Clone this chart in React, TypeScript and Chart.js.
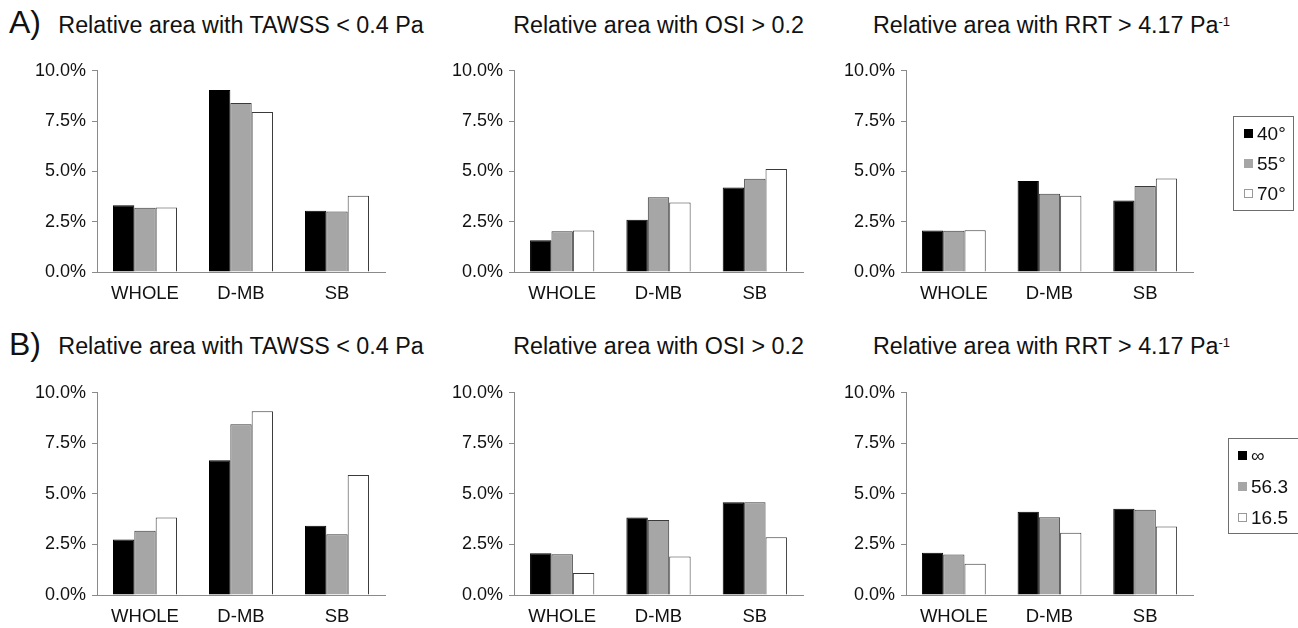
import React, { useEffect, useRef } from 'react';
import { Chart, registerables } from 'chart.js';

Chart.register(...registerables);

// ---- data -------------------------------------------------------------
const categories = ['WHOLE', 'D-MB', 'SB'];
const angleLegend = ['40°', '55°', '70°'];
const ratioLegend = ['∞', '56.3', '16.5'];
const yTickValues = [0, 2.5, 5, 7.5, 10];

// A) bifurcation angle — relative area (%)
const tawssA40 = [3.32, 9.05, 3.04];
const tawssA55 = [3.19, 8.4, 3.01];
const tawssA70 = [3.21, 7.95, 3.79];
const osiA40 = [1.58, 2.6, 4.2];
const osiA55 = [2.03, 3.72, 4.63];
const osiA70 = [2.06, 3.45, 5.12];
const rrtA40 = [2.06, 4.52, 3.55];
const rrtA55 = [2.05, 3.89, 4.27];
const rrtA70 = [2.08, 3.79, 4.65];

// B) curvature ratio — relative area (%)
const tawssBInf = [2.74, 6.67, 3.43];
const tawssB563 = [3.18, 8.44, 3.0];
const tawssB165 = [3.83, 9.09, 5.93];
const osiBInf = [2.06, 3.83, 4.59];
const osiB563 = [2.01, 3.71, 4.59];
const osiB165 = [1.09, 1.9, 2.85];
const rrtBInf = [2.09, 4.12, 4.27];
const rrtB563 = [2.0, 3.85, 4.22];
const rrtB165 = [1.54, 3.08, 3.39];

// ---- styling ----------------------------------------------------------
const FONT = "'Liberation Sans', Arial, Helvetica, sans-serif";
const TEXT = '#111';
const AXIS = '#8a8a8a';
const BAR_EDGE = '#3a3a3a';
const FILLS = ['#000000', '#a6a6a6', '#ffffff'];
const EDGES = ['#000000', BAR_EDGE, BAR_EDGE];

const AXIS_W = 95; // band reserved for the y tick labels
const AXIS_H = 40; // band reserved for the category labels
const PAD_TOP = 14;

const COLS = [
  { left: 97, right: 385 },
  { left: 514, right: 803 },
  { left: 906, right: 1193 },
];
const ROWS = [
  { top: 68, bottom: 272 },
  { top: 390, bottom: 595 },
];

// legend box placement, relative to the plot area's top-right corner
const LEGENDS = [
  { dx: 40, dy: 45, width: 60, height: 94, firstRow: 17, rowGap: 30, swatchX: 10 },
  { dx: 35, dy: 45, width: 70, height: 95, firstRow: 17, rowGap: 31, swatchX: 9 },
];

// Framed legend at the right of the plot, listing each dataset's swatch and label
const boxedLegend = {
  id: 'boxedLegend',
  afterDraw(chart: any, _args: any, opts: any) {
    if (!opts || !opts.display) return;
    const { ctx, chartArea } = chart;
    const x0 = Math.round(chartArea.right + opts.dx) + 0.5;
    const y0 = Math.round(chartArea.top + opts.dy) + 0.5;
    ctx.save();
    ctx.lineWidth = 1;
    ctx.strokeStyle = '#6e6e6e';
    ctx.strokeRect(x0, y0, opts.width, opts.height);
    const size = 9;
    ctx.font = `19px ${FONT}`;
    ctx.textBaseline = 'middle';
    ctx.textAlign = 'left';
    chart.data.datasets.forEach((ds: any, i: number) => {
      const cy = y0 + opts.firstRow + i * opts.rowGap;
      const sx = Math.round(x0 + opts.swatchX);
      const sy = Math.round(cy - size / 2);
      ctx.fillStyle = ds.backgroundColor;
      ctx.fillRect(sx, sy, size, size);
      if (ds.backgroundColor === '#ffffff') {
        ctx.strokeStyle = '#999';
        ctx.strokeRect(sx + 0.5, sy + 0.5, size - 1, size - 1);
      }
      ctx.fillStyle = TEXT;
      ctx.fillText(ds.label, sx + size + 4, cy + 1);
    });
    ctx.restore();
  },
};

type Panel = {
  row: number;
  col: number;
  labels: string[];
  series: number[][];
};

const PANELS: Panel[] = [
  { row: 0, col: 0, labels: angleLegend, series: [tawssA40, tawssA55, tawssA70] },
  { row: 0, col: 1, labels: angleLegend, series: [osiA40, osiA55, osiA70] },
  { row: 0, col: 2, labels: angleLegend, series: [rrtA40, rrtA55, rrtA70] },
  { row: 1, col: 0, labels: ratioLegend, series: [tawssBInf, tawssB563, tawssB165] },
  { row: 1, col: 1, labels: ratioLegend, series: [osiBInf, osiB563, osiB165] },
  { row: 1, col: 2, labels: ratioLegend, series: [rrtBInf, rrtB563, rrtB165] },
];

function BarPanel({ panel }: { panel: Panel }) {
  const ref = useRef<HTMLCanvasElement>(null);
  const col = COLS[panel.col];
  const row = ROWS[panel.row];
  const withLegend = panel.col === 2;
  const padRight = withLegend ? 1298 - col.right : 4;
  const left = col.left - AXIS_W;
  const top = row.top - PAD_TOP;
  const width = col.right - col.left + AXIS_W + padRight;
  const height = row.bottom - row.top + PAD_TOP + AXIS_H;

  useEffect(() => {
    const canvas = ref.current;
    if (!canvas) return;
    const chart = new Chart(canvas, {
      type: 'bar',
      data: {
        labels: categories,
        datasets: panel.series.map((values, i) => ({
          label: panel.labels[i],
          data: values,
          backgroundColor: FILLS[i],
          borderColor: EDGES[i],
          borderWidth: 1,
          categoryPercentage: 0.667,
          barPercentage: 1,
        })),
      },
      options: {
        animation: false,
        responsive: false,
        devicePixelRatio: 1,
        events: [],
        layout: { padding: { top: PAD_TOP, left: 0, right: padRight, bottom: 0 } },
        plugins: {
          legend: { display: false },
          tooltip: { enabled: false },
          title: { display: false },
          boxedLegend: withLegend
            ? { display: true, ...LEGENDS[panel.row] }
            : { display: false },
        } as any,
        scales: {
          x: {
            grid: { display: false, drawTicks: false },
            border: { display: true, color: AXIS, width: 1 },
            ticks: {
              color: TEXT,
              padding: 11,
              font: { family: FONT, size: 18.5 },
              maxRotation: 0,
            },
            afterFit: (scale: any) => {
              scale.height = AXIS_H;
            },
          },
          y: {
            min: 0,
            max: 10,
            grid: {
              display: true,
              drawOnChartArea: false,
              drawTicks: true,
              tickLength: 5,
              color: AXIS,
            },
            border: { display: true, color: AXIS, width: 1 },
            ticks: {
              color: TEXT,
              padding: 6,
              font: { family: FONT, size: 18 },
              callback: (v: any) => Number(v).toFixed(1) + '%',
            },
            afterBuildTicks: (scale: any) => {
              scale.ticks = yTickValues.map((value) => ({ value }));
            },
            afterFit: (scale: any) => {
              scale.width = AXIS_W;
            },
          },
        },
      },
      plugins: [boxedLegend as any],
    });
    return () => chart.destroy();
  }, []);

  return (
    <canvas
      ref={ref}
      width={width}
      height={height}
      style={{ position: 'absolute', left, top, width, height }}
    />
  );
}

const TITLE_TOPS = [14, 335];
const LETTER_TOPS = [6, 328];

function PanelTitle({ row, col, children }: { row: number; col: number; children: React.ReactNode }) {
  const c = COLS[col];
  const cx = (c.left + c.right) / 2 + (col === 2 ? 2 : 0);
  return (
    <div
      style={{
        position: 'absolute',
        left: cx - 250,
        width: 500,
        top: TITLE_TOPS[row],
        textAlign: 'center',
        fontFamily: FONT,
        fontSize: 23.3,
        lineHeight: '23px',
        color: TEXT,
        whiteSpace: 'nowrap',
      }}
    >
      {children}
    </div>
  );
}

function RowLetter({ row, text }: { row: number; text: string }) {
  return (
    <div
      style={{
        position: 'absolute',
        left: 9,
        top: LETTER_TOPS[row],
        fontFamily: FONT,
        fontSize: 32,
        lineHeight: '32px',
        color: TEXT,
        whiteSpace: 'nowrap',
      }}
    >
      {text}
    </div>
  );
}

const sup = (
  <sup style={{ fontSize: 13, lineHeight: 0, verticalAlign: '0.55em' }}>-1</sup>
);

export default function App() {
  return (
    <div
      style={{
        position: 'fixed',
        left: 0,
        top: 0,
        width: 1298,
        height: 628,
        background: '#ffffff',
        overflow: 'hidden',
      }}
    >
      <RowLetter row={0} text="A)" />
      <RowLetter row={1} text="B)" />
      {[0, 1].map((r) => (
        <React.Fragment key={r}>
          <PanelTitle row={r} col={0}>Relative area with TAWSS &lt; 0.4 Pa</PanelTitle>
          <PanelTitle row={r} col={1}>Relative area with OSI &gt; 0.2</PanelTitle>
          <PanelTitle row={r} col={2}>
            Relative area with RRT &gt; 4.17 Pa{sup}
          </PanelTitle>
        </React.Fragment>
      ))}
      {PANELS.map((p, i) => (
        <BarPanel key={i} panel={p} />
      ))}
    </div>
  );
}
